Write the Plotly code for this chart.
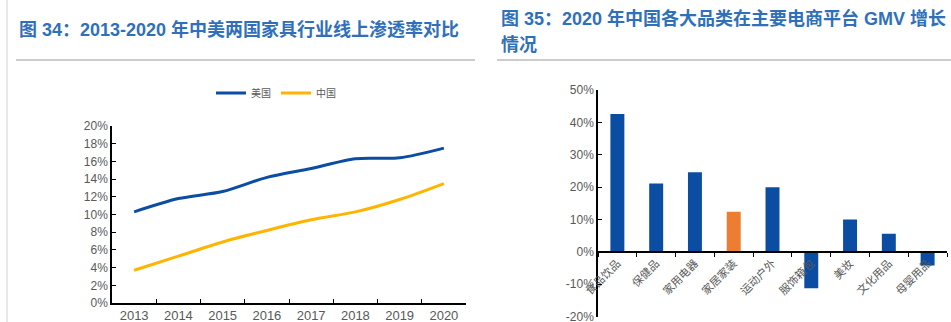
import plotly.graph_objects as go

W, H = 951, 322

# ---- data: left chart ----
years = ["2013", "2014", "2015", "2016", "2017", "2018", "2019", "2020"]
us_rate = [0.103, 0.118, 0.126, 0.142, 0.152, 0.163, 0.164, 0.175]
cn_rate = [0.037, 0.053, 0.069, 0.082, 0.094, 0.103, 0.117, 0.135]

# ---- data: right chart ----
categories = ["食品饮品", "保健品", "家用电器", "家居家装", "运动户外",
              "服饰箱包", "美妆", "文化用品", "母婴用品"]
gmv_growth = [0.426, 0.211, 0.246, 0.124, 0.200, -0.112, 0.100, 0.056, -0.042]
highlight = "家居家装"
y2_ticks = [-0.2, -0.1, 0.0, 0.1, 0.2, 0.3, 0.4, 0.5]
y2_labels = ["-20%", "-10%", "0%", "10%", "20%", "30%", "40%", "50%"]

BLUE = "#0B4DA2"
YELLOW = "#FFB400"
ORANGE = "#ED7D31"
GRAY_TXT = "#595959"
TITLE_C = "#3070BB"

def px_x(p):
    return p / W

def px_y(p):
    return 1 - p / H

fig = go.Figure()

fig.add_trace(go.Scatter(x=years, y=us_rate, mode="lines", name="美国",
                         line=dict(color=BLUE, width=3, shape="spline", smoothing=0.8),
                         xaxis="x", yaxis="y"))
fig.add_trace(go.Scatter(x=years, y=cn_rate, mode="lines", name="中国",
                         line=dict(color=YELLOW, width=3, shape="spline", smoothing=0.8),
                         xaxis="x", yaxis="y"))

bar_colors = [ORANGE if c == highlight else BLUE for c in categories]
fig.add_trace(go.Bar(x=categories, y=gmv_growth, marker=dict(color=bar_colors, line=dict(width=0)),
                     showlegend=False, xaxis="x2", yaxis="y2"))

tickfont = dict(family="Liberation Sans, Arial, sans-serif", size=12, color=GRAY_TXT)

# right y domain
y2_lo, y2_hi = px_y(316.8), px_y(90)
zero_pos = px_y(252)

fig.update_layout(
    width=W, height=H,
    margin=dict(l=0, r=0, t=0, b=0, autoexpand=False),
    paper_bgcolor="white", plot_bgcolor="white",
    showlegend=True,
    bargap=0.64,
    legend=dict(orientation="h", x=px_x(276), y=px_y(93), xanchor="center", yanchor="middle",
                font=dict(family="Noto Sans CJK SC", size=10, color=GRAY_TXT),
                itemwidth=30, bgcolor="rgba(0,0,0,0)", tracegroupgap=0),
    xaxis=dict(domain=[px_x(112), px_x(466)], anchor="y", type="category", automargin=False,
               range=[-0.5, 7.5], showline=True, linecolor="black", linewidth=1.5,
               ticks="inside", ticklen=4, tickcolor="black", tickson="boundaries",
               showgrid=False, zeroline=False, ticklabeloverflow="allow",
               tickfont=dict(family="Liberation Sans, Arial, sans-serif", size=13, color=GRAY_TXT)),
    yaxis=dict(domain=[px_y(303), px_y(126)], anchor="x", range=[0, 0.2], dtick=0.02,
               automargin=False,
               tickformat=".0%", showline=True, linecolor="black", linewidth=1.5,
               ticks="inside", ticklen=4, tickcolor="black", showgrid=False, zeroline=False,
               tickfont=tickfont),
    xaxis2=dict(domain=[px_x(598), px_x(947)], anchor="free", position=zero_pos,
                type="category", range=[-0.5, 8.5], showline=True, linecolor="black",
                automargin=False,
                linewidth=1.5, ticks="outside", ticklen=4, tickcolor="black",
                tickson="boundaries", showgrid=False, zeroline=False, tickangle=-45,
                tickfont=dict(family="Noto Sans CJK SC", size=11, color=GRAY_TXT)),
    yaxis2=dict(domain=[y2_lo, y2_hi], anchor="x2", range=[-0.2005, 0.5],
                tickmode="array", tickvals=y2_ticks, ticktext=y2_labels,
                automargin=False, ticklabeloverflow="allow",
                showline=True, linecolor="black", linewidth=1.5,
                ticks="inside", ticklen=4, tickcolor="black", showgrid=False, zeroline=False,
                tickfont=tickfont),
)

title_font = dict(family="Liberation Sans, Noto Sans CJK SC", size=18, color=TITLE_C)
fig.add_annotation(text="<b>图 34：2013-2020 年中美两国家具行业线上渗透率对比</b>",
                   xref="paper", yref="paper", x=px_x(17), y=px_y(29),
                   xanchor="left", yanchor="middle", showarrow=False, font=title_font)
fig.add_annotation(text="<b>图 35：2020 年中国各大品类在主要电商平台 GMV 增长</b>",
                   xref="paper", yref="paper", x=px_x(499), y=px_y(18),
                   xanchor="left", yanchor="middle", showarrow=False, font=title_font)
fig.add_annotation(text="<b>情况</b>",
                   xref="paper", yref="paper", x=px_x(499), y=px_y(45),
                   xanchor="left", yanchor="middle", showarrow=False, font=title_font)

# separator lines & border
fig.add_shape(type="line", xref="paper", yref="paper", x0=px_x(16), x1=px_x(475),
              y0=px_y(60), y1=px_y(60), line=dict(color="#9a9a9a", width=1.2))
fig.add_shape(type="line", xref="paper", yref="paper", x0=px_x(497), x1=1,
              y0=px_y(60), y1=px_y(60), line=dict(color="#9a9a9a", width=1.2))
fig.add_shape(type="line", xref="paper", yref="paper", x0=px_x(7), x1=px_x(7),
              y0=0, y1=1, line=dict(color="#d0d0d0", width=1))

fig.write_html("out.html")
